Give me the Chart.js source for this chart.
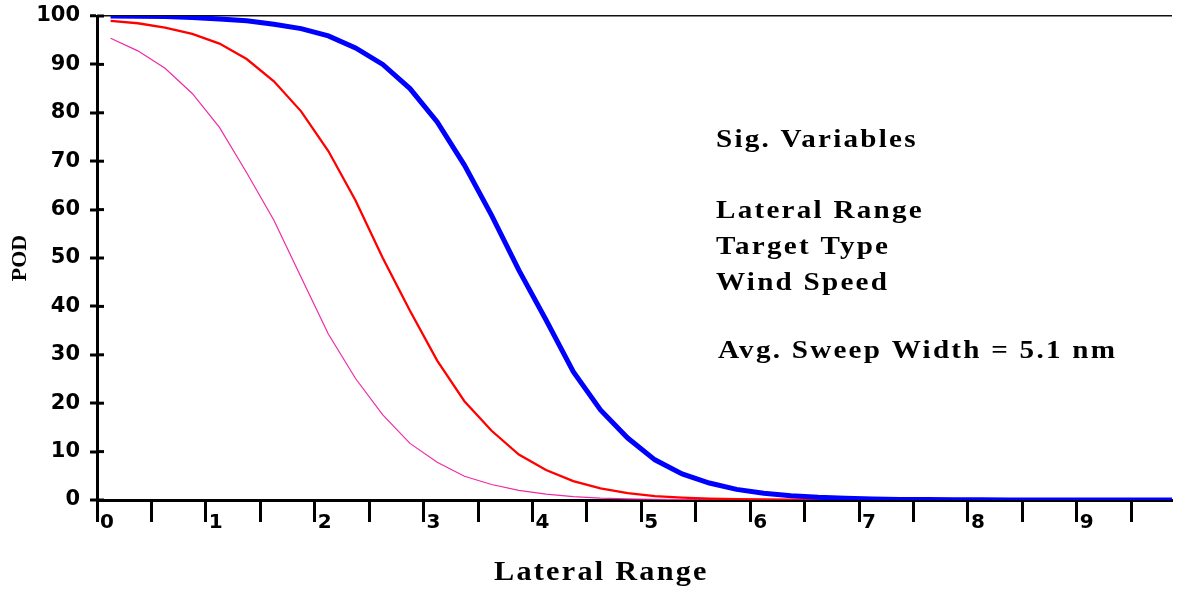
<!DOCTYPE html>
<html>
<head>
<meta charset="utf-8">
<script src="https://cdn.jsdelivr.net/npm/chart.js@4.4.1/dist/chart.umd.min.js"></script>
<style>
  html, body { margin: 0; padding: 0; background: #fff; }
  #wrap { width: 1178px; height: 590px; }
</style>
</head>
<body>
<div id="wrap"><canvas id="podChart"></canvas></div>
<script>
// lateral range (nm), midpoints of the 0.25 bins
const lateralRange = [0.125, 0.375, 0.625, 0.875, 1.125, 1.375, 1.625, 1.875, 2.125, 2.375,
  2.625, 2.875, 3.125, 3.375, 3.625, 3.875, 4.125, 4.375, 4.625, 4.875,
  5.125, 5.375, 5.625, 5.875, 6.125, 6.375, 6.625, 6.875, 7.125, 7.375,
  7.625, 7.875, 8.125, 8.375, 8.625, 8.875, 9.125, 9.375, 9.625, 9.875];

// POD curves
const podBlue = [100, 99.95, 99.9, 99.7, 99.4, 99.0, 98.3, 97.4, 95.9, 93.4,
  90.0, 85.0, 78.1, 69.2, 58.8, 47.5, 37.2, 26.5, 18.6, 12.8,
  8.3, 5.4, 3.5, 2.2, 1.4, 0.9, 0.55, 0.35, 0.2, 0.12,
  0.08, 0.05, 0.03, 0.02, 0.01, 0.01, 0, 0, 0, 0];
const podRed = [99.0, 98.5, 97.6, 96.3, 94.3, 91.1, 86.5, 80.3, 72.1, 61.9,
  50.0, 39.1, 28.8, 20.4, 14.3, 9.4, 6.2, 3.9, 2.4, 1.4,
  0.8, 0.5, 0.3, 0.2, 0.1, 0.05, 0.03, 0.02, 0.01, 0,
  0, 0, 0, 0, 0, 0, 0, 0, 0, 0];
const podPink = [95.4, 92.8, 89.2, 84.0, 77.0, 67.6, 57.8, 46.0, 34.3, 25.1,
  17.6, 11.7, 7.8, 4.9, 3.2, 2.0, 1.2, 0.7, 0.4, 0.25,
  0.15, 0.1, 0.05, 0.03, 0.02, 0.01, 0, 0, 0, 0,
  0, 0, 0, 0, 0, 0, 0, 0, 0, 0];

const xTickLabels = ['0', '1', '2', '3', '4', '5', '6', '7', '8', '9'];
const yTickLabels = ['0', '10', '20', '30', '40', '50', '60', '70', '80', '90', '100'];

const noteLines = ['Sig. Variables', '', 'Lateral Range', 'Target Type', 'Wind Speed', '', 'Avg. Sweep Width = 5.1 nm'];

function toPoints(ys) {
    return lateralRange.map((x, i) => ({ x: x, y: ys[i] }));
}

const serif = '"Liberation Serif", "Times New Roman", serif';
const sans = '"DejaVu Sans", Arial, sans-serif';

// wide serif text like the original (slightly stretched + spaced)
function wideText(ctx, text, x, y) {
    ctx.save();
    ctx.translate(x, y);
    ctx.scale(1.12, 1);
    ctx.fillText(text, 0, 0);
    ctx.restore();
}

// y ticks cross the axis, plus the serif texts
const extras = {
    id: 'extras',
    beforeDatasetsDraw(chart) {
        const ctx = chart.ctx;
        const y = chart.scales.y;
        ctx.save();
        ctx.strokeStyle = '#000';
        ctx.lineWidth = 3;
        y.ticks.forEach(t => {
            const py = y.getPixelForValue(t.value);
            ctx.beginPath();
            ctx.moveTo(y.right, py);
            ctx.lineTo(y.right + 7, py);
            ctx.stroke();
        });
        ctx.restore();
    },
    afterDraw(chart) {
        const ctx = chart.ctx;
        ctx.save();
        ctx.fillStyle = '#000';
        ctx.textAlign = 'left';
        ctx.textBaseline = 'alphabetic';

        // x axis title
        ctx.font = 'bold 27px ' + serif;
        ctx.letterSpacing = '2px';
        wideText(ctx, 'Lateral Range', 494, 580);

        // note block
        ctx.font = 'bold 26px ' + serif;
        ctx.letterSpacing = '2px';
        let by = 147;
        noteLines.forEach(line => {
            if (line) {
                const isAvg = line.startsWith('Avg');
                wideText(ctx, line, isAvg ? 718 : 716, isAvg ? by - 3 : by);
            }
            by += 35.7;
        });
        ctx.restore();
    }
};

const ctx = document.getElementById('podChart').getContext('2d');
new Chart(ctx, {
    type: 'line',
    data: {
        datasets: [
            { data: toPoints(podBlue), borderColor: '#0000ff', borderWidth: 5 },
            { data: toPoints(podRed), borderColor: '#ff0000', borderWidth: 2.3 },
            { data: toPoints(podPink), borderColor: '#f02aa6', borderWidth: 1.2 }
        ]
    },
    options: {
        responsive: true,
        maintainAspectRatio: false,
        animation: false,
        layout: { padding: { left: 0, right: 6, top: 16, bottom: 0 } },
        elements: {
            point: { radius: 0, hoverRadius: 0 },
            line: { tension: 0, fill: false }
        },
        plugins: {
            legend: { display: false },
            tooltip: { enabled: false }
        },
        scales: {
            x: {
                type: 'linear',
                min: 0,
                max: 9.875,
                afterFit: s => { s.height = 90; },
                border: { color: '#000', width: 3 },
                grid: {
                    drawOnChartArea: false,
                    tickLength: 22,
                    tickWidth: 3,
                    tickColor: '#000'
                },
                ticks: {
                    stepSize: 0.5,
                    includeBounds: false,
                    autoSkip: false,
                    maxRotation: 0,
                    align: 'start',
                    labelOffset: 3,
                    padding: -11,
                    color: '#000',
                    font: { family: sans, size: 20, weight: 'bold' },
                    callback: v => Number.isInteger(v) ? xTickLabels[v] : ''
                }
            },
            y: {
                min: 0,
                max: 100,
                afterFit: s => { s.width = 97; },
                border: { color: '#000', width: 3 },
                grid: {
                    color: c => c.tick && c.tick.value === 100 ? '#111' : 'rgba(0,0,0,0)',
                    lineWidth: c => c.tick && c.tick.value === 100 ? 1.5 : 0,
                    tickLength: 7,
                    tickWidth: 3,
                    tickColor: '#000'
                },
                ticks: {
                    stepSize: 10,
                    padding: 10,
                    color: '#000',
                    font: { family: sans, size: 21, weight: 'bold', lineHeight: 0.5 },
                    callback: v => yTickLabels[Math.round(v / 10)]
                },
                title: {
                    display: true,
                    text: 'POD',
                    color: '#000',
                    font: { family: serif, size: 22, weight: 'bold' },
                    padding: { top: 7, bottom: 0 }
                }
            }
        }
    },
    plugins: [extras]
});
</script>
</body>
</html>
